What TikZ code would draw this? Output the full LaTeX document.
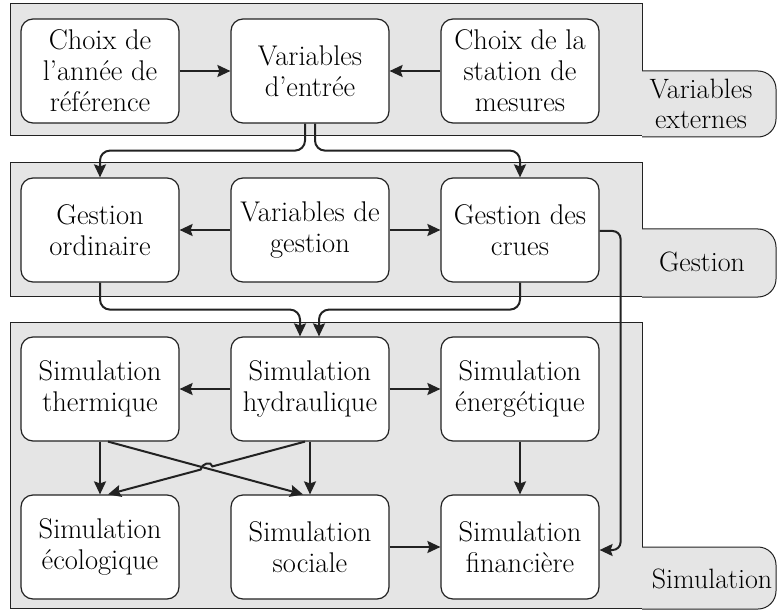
\documentclass[tikz,border=0pt]{standalone}
\usepackage{fontspec}
\usetikzlibrary{arrows.meta,calc}
\definecolor{bandgray}{HTML}{E5E5E5}
\definecolor{edge}{HTML}{222222}
\tikzset{
  box/.style={draw=edge,line width=1.2pt,fill=white,rounded corners=12pt,
    minimum width=158pt,minimum height=104pt,align=center,inner sep=0pt,
    font=\fontsize{28.5}{31}\selectfont},
  band/.style={draw=edge,line width=1pt,fill=bandgray},
  tablabel/.style={align=center,inner sep=0pt,font=\fontsize{28}{30}\selectfont},
  arr/.style={draw=edge,line width=2pt,-{Stealth[length=13pt,width=12pt,inset=2pt]}},
}
\begin{document}
\begin{tikzpicture}[x=1pt,y=-1pt]
\useasboundingbox (0,0) rectangle (778,612);
% bands
\path[band] (10,4) rectangle (642,136);
\path[band] (10,163) rectangle (642,296);
\path[band] (10,322) rectangle (642,608);
% tabs
\fill[bandgray] (642,71) [rounded corners=18pt] -- (776,71) -- (776,137) [sharp corners] -- (642,137) -- cycle;
\draw[edge,line width=1pt] (642,71) [rounded corners=18pt] -- (776,71) -- (776,137) [sharp corners] -- (642,137);
\fill[bandgray] (642,229) [rounded corners=18pt] -- (776,229) -- (776,297) [sharp corners] -- (642,297) -- cycle;
\draw[edge,line width=1pt] (642,229) [rounded corners=18pt] -- (776,229) -- (776,297) [sharp corners] -- (642,297);
\fill[bandgray] (642,547) [rounded corners=18pt] -- (776,547) -- (776,609) [sharp corners] -- (642,609) -- cycle;
\draw[edge,line width=1pt] (642,547) [rounded corners=18pt] -- (776,547) -- (776,609) [sharp corners] -- (642,609);
\node[tablabel] (t1) at (701,104) {Variables\\externes};
\node[tablabel] (t2) at (702,262) {Gestion};
\node[tablabel] (t3) at (712,579) {Simulation};
% row 1
\node[box] (c1) at (100,71) {Choix de\\l’année de\\référence};
\node[box] (vin) at (310,71) {Variables\\d’entrée};
\node[box] (c3) at (520,71) {Choix de la\\station de\\mesures};
% row 2
\node[box] (go) at (100,230) {Gestion\\ordinaire};
\node[box] (vg) at (310,230) {Variables de\\gestion};
\node[box] (gc) at (520,230) {Gestion des\\crues};
% row 3
\node[box] (st) at (100,389) {Simulation\\thermique};
\node[box] (sh) at (310,389) {Simulation\\hydraulique};
\node[box] (se) at (520,389) {Simulation\\énergétique};
% row 4
\node[box] (seco) at (100,547) {Simulation\\écologique};
\node[box] (ss) at (310,547) {Simulation\\sociale};
\node[box] (sf) at (520,547) {Simulation\\financière};
% connectors
\draw[arr] (c1) -- (vin);
\draw[arr] (c3) -- (vin);
\draw[arr,rounded corners=10pt] ([xshift=-5pt]vin.south) -- ++(0,27) -| (go.north);
\draw[arr,rounded corners=10pt] ([xshift=5pt]vin.south) -- ++(0,27) -| (gc.north);
\draw[arr] (vg) -- (go);
\draw[arr] (vg) -- (gc);
\draw[arr,rounded corners=10pt] (go.south) -- ++(0,27) -| ([xshift=-10pt]sh.north);
\draw[arr,rounded corners=10pt] (gc.south) -- ++(0,27) -| ([xshift=9pt]sh.north);
\draw[arr,rounded corners=8pt] ([yshift=-1pt]gc.east) -- ++(21,0) |- ([yshift=-3pt]sf.east);
\draw[arr] (sh) -- (st);
\draw[arr] (sh) -- (se);
\draw[arr] (st.south) -- (seco.north);
\draw[arr] (sh.south) -- (ss.north);
\draw[arr] ([xshift=8pt]st.south) -- ([xshift=-7pt]ss.north);
\coordinate (b1) at ([xshift=-5pt]sh.south);
\coordinate (b2) at ([xshift=8pt]seco.north);
\draw[arr] (b1) -- ($(b1)!0.47!(b2)$) .. controls +(-1,-6) and +(1,-6) .. ($(b1)!0.53!(b2)$) -- (b2);
\draw[arr] (se) -- (sf);
\draw[arr] (ss) -- (sf);
\end{tikzpicture}
\end{document}
